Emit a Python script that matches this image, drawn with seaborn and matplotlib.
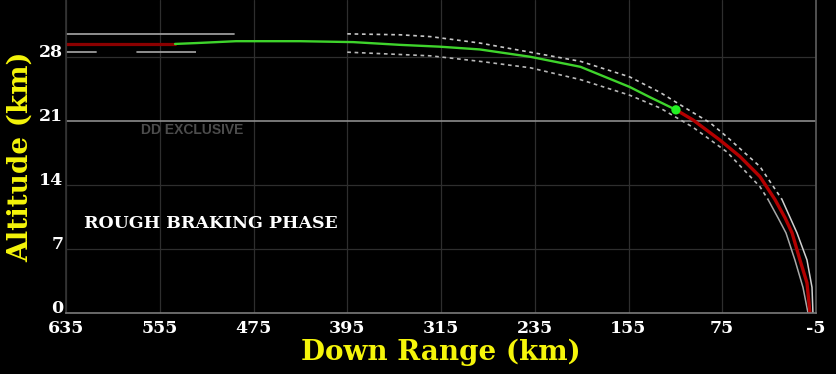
import matplotlib
matplotlib.use("Agg")
import matplotlib.pyplot as plt
import pandas as pd
import seaborn as sns

# down range (km) / altitude (km)
coast_range = [635, 542]
coast_alt = [29.4, 29.4]

braking_range = [542, 523, 490, 435, 390, 350, 316, 282, 239, 196, 154, 137, 114.5]
braking_alt = [29.4, 29.5, 29.7, 29.7, 29.6, 29.3, 29.1, 28.8, 28.0, 26.9, 24.7, 23.6, 22.2]

descent_range = [114.5, 100.0, 77.0, 59.9, 42.8, 30.0, 21.4, 15.4, 8.7, 2.7, 0.1]
descent_alt = [22.2, 21.1, 18.9, 17.1, 14.9, 12.4, 10.4, 8.75, 5.8, 3.3, 0.0]

current_range = [114.5]
current_alt = [22.2]

upper_flat_range = [635, 492]
upper_flat_alt = [30.5, 30.5]
upper_range = [395, 350, 324, 282, 239, 196, 154, 128, 100, 85.5, 71, 42.8, 24.0]
upper_alt = [30.5, 30.4, 30.2, 29.5, 28.5, 27.5, 25.8, 24.1, 21.9, 20.8, 19.25, 16.0, 12.4]
upper_end_range = [24.0, 11.2, 2.7, -1.6, -2.4]
upper_end_alt = [12.4, 8.75, 5.8, 2.8, 0.0]

lower_flat_range = [635, 486]
lower_flat_alt = [28.5, 28.5]
lower_range = [395, 324, 282, 239, 196, 154, 128, 100, 71, 42.8, 35.9]
lower_alt = [28.5, 28.1, 27.5, 26.8, 25.5, 23.8, 22.4, 20.3, 17.6, 13.8, 12.4]
lower_end_range = [35.9, 27.4, 20.6, 13.0, 6.1, 1.8]
lower_end_alt = [12.4, 10.4, 8.75, 5.8, 2.8, 0.0]

x_ticks = [635, 555, 475, 395, 315, 235, 155, 75, -5]
y_ticks = [0, 7, 14, 21, 28]

sns.set_theme(style="dark", rc={"axes.facecolor": "black", "figure.facecolor": "black"})
plt.rcParams["font.family"] = ["DejaVu Serif"]

fig = plt.figure(figsize=(8.37, 3.74), dpi=100)
ax = fig.add_axes([0.0789, 0.163, 0.896, 0.837])


def line(xs, ys, **kw):
    df = pd.DataFrame({"range": xs, "alt": ys})
    sns.lineplot(data=df, x="range", y="alt", ax=ax, sort=False, estimator=None, **kw)


# dispersion envelope
line(upper_flat_range, upper_flat_alt, color="#9a9a9a", linewidth=1.3)
line(lower_flat_range, lower_flat_alt, color="#9a9a9a", linewidth=1.3,
     linestyle=(0, (17, 22, 33, 40)))
line(upper_range, upper_alt, color="#c8c8c8", linewidth=1.2, linestyle=(0, (2.2, 2.2)))
line(lower_range, lower_alt, color="#b8b8b8", linewidth=1.2, linestyle=(0, (2.2, 2.2)))
line(upper_end_range, upper_end_alt, color="#d0d0d0", linewidth=1.1)
line(lower_end_range, lower_end_alt, color="#a8a8a8", linewidth=1.1)

# trajectory
line(coast_range, coast_alt, color="#8b0000", linewidth=2.3)
line(braking_range, braking_alt, color="#3fd42c", linewidth=1.7)
line(descent_range, descent_alt, color="#b30000", linewidth=2.4)
sns.scatterplot(x=current_range, y=current_alt, ax=ax, color="#22f022", s=45,
                edgecolor="none", zorder=5)

ax.set_xlim(635, -5)
ax.set_ylim(0, 34.2)
ax.set_xticks(x_ticks)
ax.set_yticks(y_ticks)
ax.set_xticklabels([str(v) for v in x_ticks])
ax.set_yticklabels([str(v) for v in y_ticks])
ax.tick_params(axis="both", length=0, labelsize=12.5, labelcolor="white")
ax.tick_params(axis="x", pad=5)
ax.tick_params(axis="y", pad=2)
for lab in ax.get_xticklabels() + ax.get_yticklabels():
    lab.set_fontweight("bold")
for lab in ax.get_yticklabels():
    lab.set_va("baseline")

ax.grid(True, color="#2e2e2e", linewidth=0.9)
ax.get_ygridlines()[3].set_color("#8c8c8c")
ax.get_ygridlines()[3].set_linewidth(1.2)
ax.set_axisbelow(True)

ax.spines["top"].set_visible(False)
ax.spines["bottom"].set_color("#7a7a7a")
ax.spines["bottom"].set_linewidth(1.2)
ax.spines["left"].set_color("#333333")
ax.spines["right"].set_color("#5a5a5a")

ax.set_xlabel("Down Range (km)", fontsize=20, fontweight="bold", color="#f5f50a", labelpad=1)
ax.set_ylabel("Altitude (km)", fontsize=20, fontweight="bold", color="#f5f50a", labelpad=4)

ax.text(0.024, 0.2875, "ROUGH BRAKING PHASE", transform=ax.transAxes, fontsize=12.5,
        fontweight="bold", color="white", va="center", ha="left")
ax.text(0.1, 0.585, "DD EXCLUSIVE", transform=ax.transAxes, fontsize=10,
        fontweight="bold", color="#4c4c4c", va="center", ha="left",
        family=["Liberation Sans", "DejaVu Sans"])

fig.savefig("out.png", dpi=100, facecolor="black")
